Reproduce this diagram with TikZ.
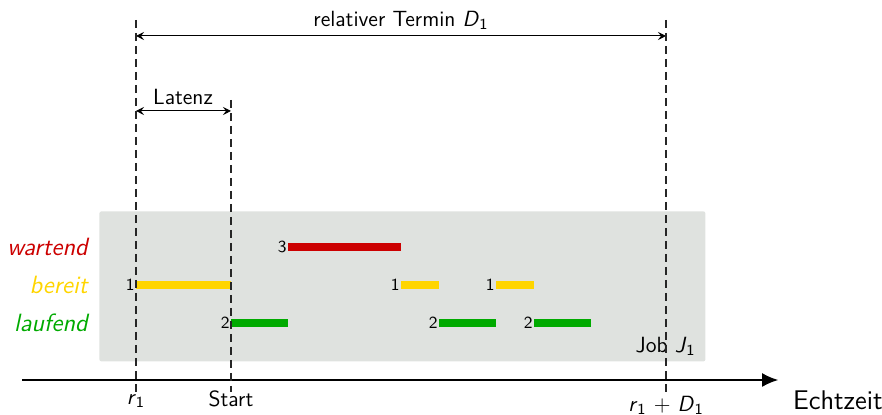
\documentclass[tikz,border=0pt]{standalone}
\usetikzlibrary{arrows.meta}
\definecolor{waitred}{HTML}{CC0000}
\definecolor{readyyel}{HTML}{FFD500}
\definecolor{rungreen}{HTML}{00AA00}
\definecolor{jobgrey}{HTML}{DFE2DF}
\newcommand{\mvar}[2]{\textit{#1}\textsubscript{\upshape #2}}
\begin{document}
\begin{tikzpicture}[x=0.5pt,y=-0.5pt,font=\sffamily\fontsize{11}{13}\selectfont,
  guide/.style={draw=black!85,line width=0.6pt,dash pattern=on 4pt off 2.5pt},
  dimarrow/.style={draw=black,line width=0.5pt,{Stealth[length=4pt,width=4pt,inset=1.5pt]}-{Stealth[length=4pt,width=4pt,inset=1.5pt]}},
  bar/.style={line width=4pt},
  num/.style={font=\sffamily\fontsize{8.5}{10}\selectfont,anchor=east,inner sep=0.5pt},
  state/.style={font=\sffamily\itshape\fontsize{12.5}{14}\selectfont,anchor=east,inner sep=0pt}]
\useasboundingbox (0,0) rectangle (882,415);
% job box
\node[fill=jobgrey,rounded corners=1pt,minimum width=303pt,minimum height=75pt,inner sep=0pt,anchor=north west] (job) at (99,211) {};
\node[anchor=south east,inner sep=2pt] (jobl) at (700,360) {Job \mvar{J}{1}};
% axis
\coordinate (ax0) at (22,380);
\coordinate (ax1) at (778,380);
\draw[line width=0.6pt,-{Latex[length=8pt,width=7pt]}] (ax0) -- (ax1);
\node[anchor=west,font=\sffamily\fontsize{13.5}{15}\selectfont] (ez) at (786,400) {Echtzeit};
% guide lines
\coordinate (g1t) at (136,20); \coordinate (g1b) at (136,392);
\coordinate (g2t) at (231,100); \coordinate (g2b) at (231,392);
\coordinate (g3t) at (666,20); \coordinate (g3b) at (666,392);
% tick labels
\node[anchor=north,inner sep=1pt] (r1) at (136,392) {\mvar{r}{1}};
\node[anchor=north,inner sep=1pt] (st) at (231,388) {Start};
\node[anchor=north,inner sep=1pt] (rd) at (666,394) {\mvar{r}{1} + \mvar{D}{1}};
% dimension arrows
\coordinate (d1a) at (136,36); \coordinate (d1b) at (666,36);
\draw[dimarrow] (d1a) -- (d1b);
\node[anchor=south,inner sep=3pt] (dl) at (401,36) {relativer Termin \mvar{D}{1}};
\coordinate (d2a) at (136,111); \coordinate (d2b) at (231,111);
\draw[dimarrow] (d2a) -- (d2b);
\node[anchor=south,inner sep=3pt] (ll) at (183,111) {Latenz};
% state labels
\node[state,text=waitred] (sw) at (88,247) {wartend};
\node[state,text=readyyel] (sb) at (88,285) {bereit};
\node[state,text=rungreen] (sl) at (88,323) {laufend};
% bars
\coordinate (w1a) at (288,247); \coordinate (w1b) at (401,247);
\draw[bar,waitred] (w1a) -- (w1b);
\node[num] at (w1a) {3};
\coordinate (b1a) at (136,285); \coordinate (b1b) at (231,285);
\coordinate (b2a) at (401,285); \coordinate (b2b) at (439,285);
\coordinate (b3a) at (496,285); \coordinate (b3b) at (534,285);
\draw[bar,readyyel] (b1a) -- (b1b);
\draw[bar,readyyel] (b2a) -- (b2b);
\draw[bar,readyyel] (b3a) -- (b3b);
\node[num] at (b1a) {1};
\node[num] at (b2a) {1};
\node[num] at (b3a) {1};
\coordinate (l1a) at (231,323); \coordinate (l1b) at (288,323);
\coordinate (l2a) at (439,323); \coordinate (l2b) at (496,323);
\coordinate (l3a) at (534,323); \coordinate (l3b) at (591,323);
\draw[bar,rungreen] (l1a) -- (l1b);
\draw[bar,rungreen] (l2a) -- (l2b);
\draw[bar,rungreen] (l3a) -- (l3b);
\node[num] at (l1a) {2};
\node[num] at (l2a) {2};
\node[num] at (l3a) {2};
% guides on top of box
\draw[guide] (g1t) -- (g1b);
\draw[guide] (g2t) -- (g2b);
\draw[guide] (g3t) -- (g3b);
\end{tikzpicture}
\end{document}
